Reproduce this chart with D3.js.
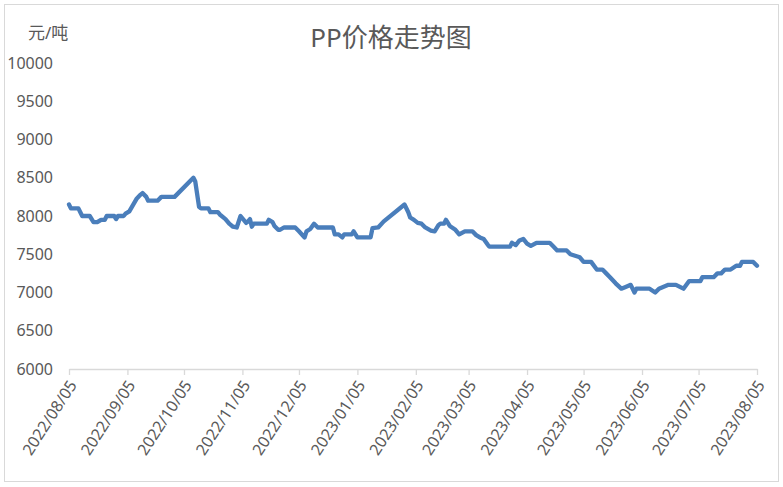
<!DOCTYPE html>
<html>
<head>
<meta charset="utf-8">
<script src="https://cdn.jsdelivr.net/npm/d3@7"></script>
<style>
  body { margin: 0; background: #fff; }
  svg text { font-family: "Noto Sans", "Noto Sans CJK SC", sans-serif; fill: #595959; }
</style>
</head>
<body>
<div id="chart"></div>
<script>
// dates and PP price (元/吨)
const dates = [
  "2022/08/05","2022/08/06","2022/08/10","2022/08/11","2022/08/12","2022/08/16","2022/08/18","2022/08/20",
  "2022/08/22","2022/08/24","2022/08/25","2022/08/29","2022/08/30","2022/08/31","2022/09/03","2022/09/04",
  "2022/09/06","2022/09/10","2022/09/12","2022/09/13","2022/09/15","2022/09/16","2022/09/21","2022/09/23",
  "2022/09/30","2022/10/10","2022/10/11","2022/10/13","2022/10/14","2022/10/18","2022/10/19","2022/10/23",
  "2022/10/24","2022/10/27","2022/10/29","2022/10/31","2022/11/02","2022/11/04","2022/11/07","2022/11/08",
  "2022/11/09","2022/11/10","2022/11/11","2022/11/18","2022/11/19","2022/11/21","2022/11/22","2022/11/24",
  "2022/11/25","2022/11/27","2022/12/03","2022/12/05","2022/12/08","2022/12/09","2022/12/11","2022/12/13",
  "2022/12/15","2022/12/23","2022/12/24","2022/12/26","2022/12/28","2022/12/29","2023/01/02","2023/01/03",
  "2023/01/05","2023/01/12","2023/01/13","2023/01/16","2023/01/19","2023/01/30","2023/02/01","2023/02/02",
  "2023/02/04","2023/02/06","2023/02/08","2023/02/10","2023/02/13","2023/02/15","2023/02/17","2023/02/18",
  "2023/02/20","2023/02/21","2023/02/23","2023/02/26","2023/02/28","2023/03/03","2023/03/07","2023/03/09",
  "2023/03/11","2023/03/13","2023/03/15","2023/03/16","2023/03/27","2023/03/28","2023/03/30","2023/04/01",
  "2023/04/03","2023/04/05","2023/04/07","2023/04/10","2023/04/17","2023/04/19","2023/04/21","2023/04/26",
  "2023/04/28","2023/05/03","2023/05/05","2023/05/09","2023/05/12","2023/05/15","2023/05/17","2023/05/19",
  "2023/05/22","2023/05/25","2023/05/27","2023/05/30","2023/06/01","2023/06/02","2023/06/09","2023/06/12",
  "2023/06/14","2023/06/19","2023/06/23","2023/06/27","2023/06/30","2023/07/06","2023/07/07","2023/07/13",
  "2023/07/15","2023/07/17","2023/07/19","2023/07/22","2023/07/25","2023/07/27","2023/07/28","2023/08/03",
  "2023/08/05"
];
const prices = [
  8150,8100,8100,8050,8000,8000,7920,7920,
  7950,7950,8000,8000,7960,8000,8000,8030,
  8060,8230,8280,8300,8250,8200,8200,8250,
  8250,8500,8450,8120,8100,8100,8050,8050,
  8020,7960,7900,7860,7850,8000,7910,7930,
  7960,7860,7900,7900,7950,7920,7870,7820,
  7820,7850,7850,7800,7720,7800,7830,7900,
  7850,7850,7760,7760,7720,7760,7760,7800,
  7720,7720,7840,7850,7930,8150,8050,7980,
  7950,7910,7900,7850,7810,7800,7880,7900,
  7900,7950,7870,7820,7760,7800,7800,7750,
  7720,7700,7630,7600,7600,7650,7620,7680,
  7700,7640,7610,7650,7650,7600,7550,7550,
  7500,7460,7400,7400,7300,7300,7250,7200,
  7120,7050,7070,7100,7000,7050,7050,7000,
  7050,7100,7100,7050,7150,7150,7200,7200,
  7250,7250,7300,7300,7350,7350,7400,7400,
  7350
];
const xTickLabels = [
  "2022/08/05","2022/09/05","2022/10/05","2022/11/05","2022/12/05","2023/01/05","2023/02/05",
  "2023/03/05","2023/04/05","2023/05/05","2023/06/05","2023/07/05","2023/08/05"
];
const yTicks = [6000, 6500, 7000, 7500, 8000, 8500, 9000, 9500, 10000];

const width = 783, height = 487;
const parse = d3.utcParse("%Y/%m/%d");
const fmt = d3.utcFormat("%Y/%m/%d");

const data = dates.map((d, i) => ({ date: parse(d), price: prices[i] }));

const svg = d3.select("#chart").append("svg")
    .attr("width", width)
    .attr("height", height);

// chart border
svg.append("rect")
    .attr("x", 4.5).attr("y", 4.5)
    .attr("width", 774).attr("height", 477)
    .attr("fill", "#fff")
    .attr("stroke", "#d9d9d9");

const x = d3.scaleUtc()
    .domain([parse(xTickLabels[0]), parse(xTickLabels[xTickLabels.length - 1])])
    .range([69, 757]);
const y = d3.scaleLinear().domain([6000, 10000]).range([369, 63]);

// x axis
const xAxis = d3.axisBottom(x)
    .tickValues(xTickLabels.map(parse))
    .tickFormat(fmt)
    .tickSize(6)
    .tickSizeOuter(0);

const gx = svg.append("g")
    .attr("transform", "translate(0," + y(6000) + ")")
    .call(xAxis);
gx.select(".domain").attr("stroke", "#d9d9d9").attr("stroke-width", 1.3);
gx.selectAll(".tick line").attr("stroke", "#d9d9d9").attr("stroke-width", 1.3);
gx.selectAll(".tick text")
    .attr("font-size", 16)
    .attr("text-anchor", "end")
    .attr("dy", null)
    .attr("y", 0)
    .attr("transform", "translate(8,16) rotate(-57)");

// y axis labels only
const gy = svg.append("g")
    .attr("transform", "translate(53,0)")
    .call(d3.axisLeft(y).tickValues(yTicks).tickFormat(d3.format("d")).tickSize(0).tickPadding(0));
gy.select(".domain").remove();
gy.selectAll(".tick text").attr("font-size", 16);

// line
const line = d3.line()
    .x(d => x(d.date))
    .y(d => y(d.price));

svg.append("path")
    .datum(data)
    .attr("fill", "none")
    .attr("stroke", "#4a7ebb")
    .attr("stroke-width", 4.3)
    .attr("stroke-linejoin", "round")
    .attr("stroke-linecap", "round")
    .attr("d", line);

// title and unit
svg.append("text")
    .attr("x", 391).attr("y", 47)
    .attr("text-anchor", "middle")
    .attr("font-size", 26)
    .text("PP价格走势图");

svg.append("text")
    .attr("x", 28).attr("y", 39)
    .attr("font-size", 17)
    .text("元/吨");
</script>
</body>
</html>
